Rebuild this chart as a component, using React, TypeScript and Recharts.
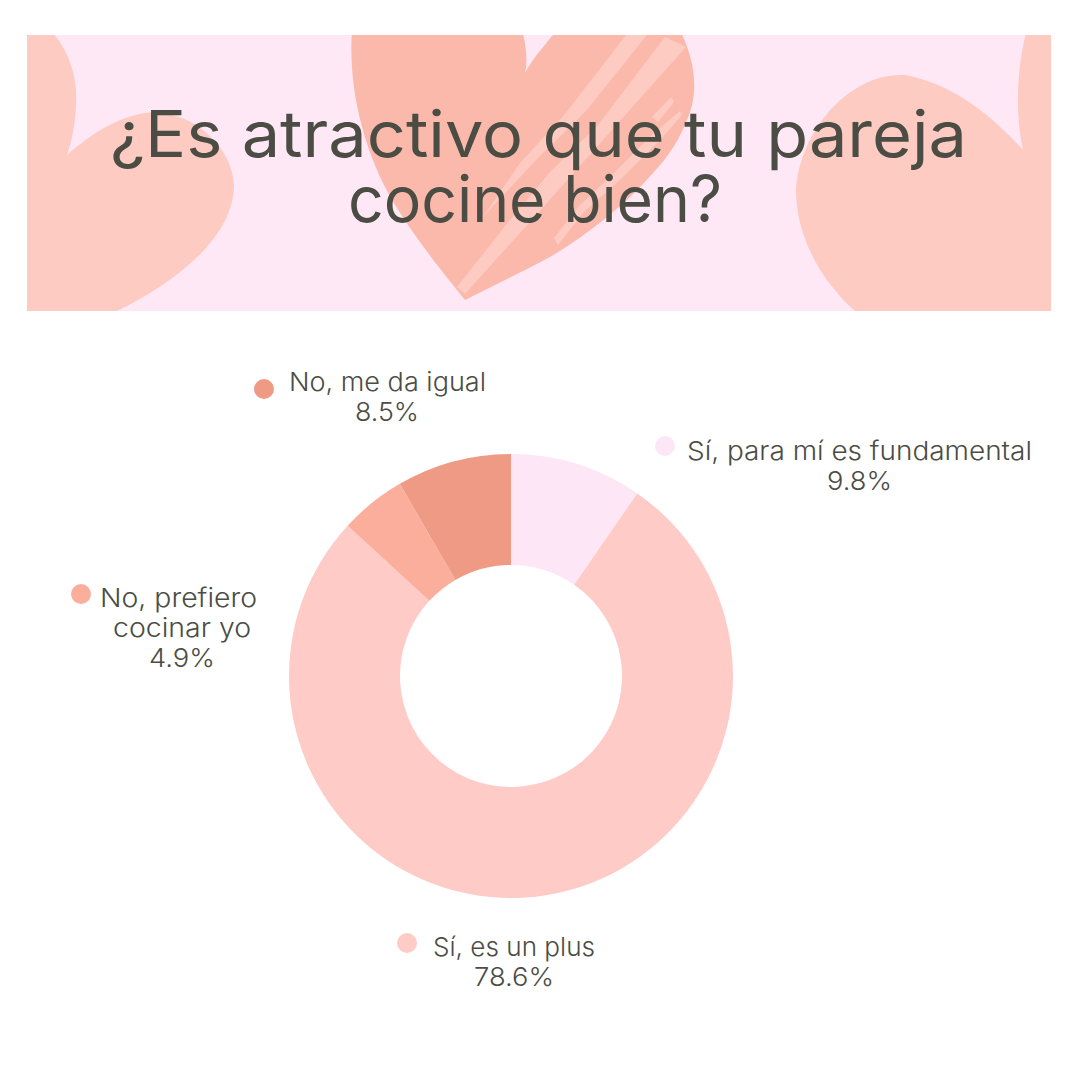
import { PieChart, Pie, Cell } from "recharts";

const answers = ["Sí, para mí es fundamental", "Sí, es un plus", "No, prefiero cocinar yo", "No, me da igual"];
const shares = [9.8, 78.6, 4.9, 8.5];
const sliceColors = ["#FDE6F5", "#FFCBC7", "#FBAE9C", "#EF9A84"];

const data = answers.map((name, i) => ({ name, value: shares[i] }));

// label placement, one per slice. each line: text, centre x, stretched width
const labelSpots = [
  {
    lines: [["Sí, para mí es fundamental", 859.5, 345]],
    pct: [859.5, 65],
    ty: 460,
    dx: 665,
    dy: 446,
  },
  { lines: [["Sí, es un plus", 514, 162]], pct: [514, 80], ty: 956, dx: 407, dy: 943 },
  {
    lines: [
      ["No, prefiero", 178.5, 157],
      ["cocinar yo", 182, 138],
    ],
    pct: [182, 66],
    ty: 607,
    dx: 81,
    dy: 594,
  },
  { lines: [["No, me da igual", 387.5, 197]], pct: [387, 64], ty: 391, dx: 264, dy: 389 },
];

const textColor = "#4B4D45";
const heartPath =
  "M352 30 C348 85 362 150 395 205 C420 245 445 275 465 300 C500 282 530 268 550 257 C590 233 625 205 653 173 C670 155 680 138 687 120 C698 95 697 65 680 30 L557 30 C545 45 533 58 525 73 C528 60 526 45 522 30 Z";

const stripes = [
  "626,35 647,35 586,111 536,160 483,217 520,163 565,114",
  "665,37 686,47 636,103 586,159 530,222 491,265 465,294 457,287 505,226 550,172 598,125",
  "671,97 674,102 658,122 652,117",
  "680,111 682,115 661,139 621,179 584,212 558,245 554,238 579,206 616,171 656,131",
];

function SliceLabel(props: any) {
  const spot = labelSpots[props.index];
  const rows: any[] = [...spot.lines, [`${shares[props.index]}%`, spot.pct[0], spot.pct[1]]];
  return (
    <g>
      <circle cx={spot.dx} cy={spot.dy} r={10} fill={sliceColors[props.index]} />
      {rows.map((row, i) => (
        <text
          key={row[0]}
          x={row[1]}
          y={spot.ty + i * 30}
          textAnchor="middle"
          textLength={row[2]}
          lengthAdjust="spacingAndGlyphs"
          fontFamily="Inter"
          fontSize={26}
          fontWeight={300}
          fill={textColor}
        >
          {row[0]}
        </text>
      ))}
    </g>
  );
}

function Banner() {
  return (
    <svg width={1080} height={320} style={{ position: "absolute", left: 0, top: 0 }}>
      <defs>
        <clipPath id="banner">
          <rect x={27} y={35} width={1024} height={276} />
        </clipPath>
      </defs>
      <g clipPath="url(#banner)">
        <rect x={27} y={35} width={1024} height={276} fill="#FEE8F6" />
        <path
          d="M20 30 L50 30 C70 50 78 80 76 105 C75 125 72 140 67 155 C90 135 115 118 145 113 C190 108 232 145 234 185 C234 230 190 275 117 311 L20 311 Z"
          fill="#FDCBC1"
        />
        <path
          d="M1060 30 L1027 30 C1018 60 1014 110 1023 150 C1000 125 960 85 905 75 C850 72 800 130 796 190 C796 240 825 285 855 311 L1060 311 Z"
          fill="#FDCBC1"
        />
        <path d={heartPath} fill="#FBB9AB" />
        {stripes.map((points) => (
          <polygon key={points} points={points} fill="#FDCBC1" />
        ))}
        <text
          x={538.5}
          y={157}
          textAnchor="middle"
          textLength={857}
          lengthAdjust="spacingAndGlyphs"
          fontFamily="Inter"
          fontSize={64}
          fill={textColor}
        >
          ¿Es atractivo que tu pareja
        </text>
        <text
          x={535}
          y={222}
          textAnchor="middle"
          textLength={374}
          lengthAdjust="spacingAndGlyphs"
          fontFamily="Inter"
          fontSize={64}
          fill={textColor}
        >
          cocine bien?
        </text>
      </g>
    </svg>
  );
}

export default function App() {
  return (
    <div style={{ position: "absolute", left: 0, top: 0, width: 1080, height: 1080, background: "#fff" }}>
      <Banner />
      <div style={{ position: "absolute", left: 0, top: 0 }}>
        <PieChart width={1080} height={1080} margin={{ top: 0, right: 0, bottom: 0, left: 0 }}>
          <Pie
            data={data}
            dataKey="value"
            nameKey="name"
            cx={511}
            cy={676}
            innerRadius={111}
            outerRadius={222}
            startAngle={90}
            endAngle={-270}
            stroke="none"
            label={SliceLabel}
            labelLine={false}
            isAnimationActive={false}
          >
            {data.map((d, i) => (
              <Cell key={d.name} fill={sliceColors[i]} />
            ))}
          </Pie>
        </PieChart>
      </div>
    </div>
  );
}
